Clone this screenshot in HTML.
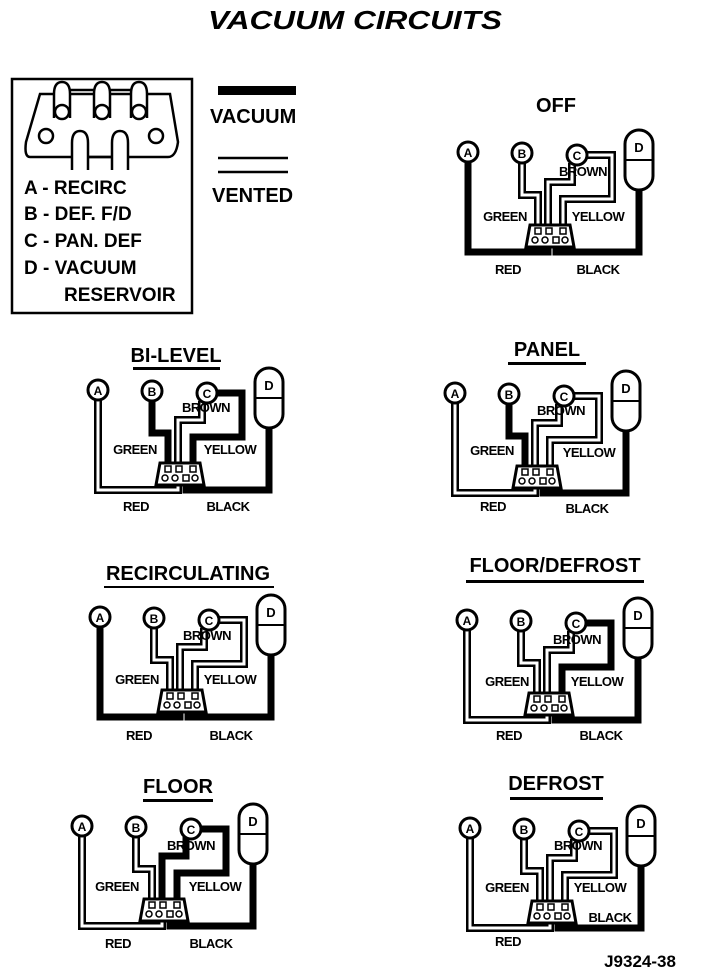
<!DOCTYPE html>
<html><head><meta charset="utf-8"><style>
html,body{margin:0;padding:0;background:#fff;}
svg{display:block;}
text{font-family:"Liberation Sans",sans-serif;font-weight:bold;fill:#000;}
.vo{fill:none;stroke:#000;stroke-width:8;stroke-linejoin:miter;}
.vi{fill:none;stroke:#fff;stroke-width:3;stroke-linejoin:miter;}
.k{fill:none;stroke:#000;stroke-width:7;stroke-linejoin:miter;}
.c{fill:#fff;stroke:#000;stroke-width:3;}
.lab{font-size:13px;letter-spacing:-0.5px;}
.ttl{font-size:20px;}
.pin{fill:#fff;stroke:#000;stroke-width:1.5;}
</style></head><body>
<svg width="704" height="974" viewBox="0 0 704 974" xmlns="http://www.w3.org/2000/svg">
<defs></defs>
<text x="355" y="29" text-anchor="middle" font-size="26" font-style="italic" textLength="294" lengthAdjust="spacingAndGlyphs" style="font-weight:900">VACUUM CIRCUITS</text>

<!-- legend box -->
<rect x="12" y="79" width="180" height="234" fill="none" stroke="#000" stroke-width="2.5"/>
<g fill="#fff" stroke="#000" stroke-width="2.5">
<path d="M40,94 L170,94 L178,142 Q176,157 168,157 L30,157 Q24,157 26,142 Z"/>
<path d="M54,118 V94 Q54,82 62,82 Q70,82 70,94 V118"/>
<path d="M94,118 V94 Q94,82 102,82 Q110,82 110,94 V118"/>
<path d="M131,118 V94 Q131,82 139,82 Q147,82 147,94 V118"/>
<circle cx="62" cy="112" r="7"/><circle cx="102" cy="112" r="7"/><circle cx="139" cy="112" r="7"/>
<circle cx="46" cy="136" r="7"/><circle cx="156" cy="136" r="7"/>
<path d="M72,170 V143 Q72,131 80,131 Q88,131 88,143 V170"/>
<path d="M112,170 V143 Q112,131 120,131 Q128,131 128,143 V170"/>
<line x1="88" y1="157" x2="112" y2="157"/>
<line x1="70" y1="90" x2="94" y2="90" /><line x1="110" y1="90" x2="131" y2="90"/>
</g>
<g font-size="19">
<text x="24" y="194">A - RECIRC</text>
<text x="24" y="220">B - DEF. F/D</text>
<text x="24" y="247">C - PAN. DEF</text>
<text x="24" y="274">D - VACUUM</text>
<text x="64" y="301">RESERVOIR</text>
</g>
<rect x="218" y="86" width="78" height="9" fill="#000"/>
<text x="210" y="123" font-size="20">VACUUM</text>
<line x1="218" y1="158" x2="288" y2="158" stroke="#000" stroke-width="2.5"/>
<line x1="218" y1="172" x2="288" y2="172" stroke="#000" stroke-width="2.5"/>
<text x="212" y="202" font-size="20">VENTED</text>

<!-- titles -->
<text class="ttl" x="556" y="112" text-anchor="middle">OFF</text>
<text class="ttl" x="176" y="362" text-anchor="middle">BI-LEVEL</text><rect x="133" y="367" width="87" height="3"/>
<text class="ttl" x="547" y="356" text-anchor="middle">PANEL</text><rect x="508" y="362" width="78" height="3"/>
<text class="ttl" x="188" y="580" text-anchor="middle">RECIRCULATING</text><rect x="104" y="586" width="170" height="2"/>
<text class="ttl" x="555" y="572" text-anchor="middle">FLOOR/DEFROST</text><rect x="466" y="580" width="178" height="3"/>
<text class="ttl" x="178" y="793" text-anchor="middle">FLOOR</text><rect x="143" y="799" width="70" height="3"/>
<text class="ttl" x="556" y="790" text-anchor="middle">DEFROST</text><rect x="510" y="797" width="93" height="3"/>

<!-- OFF -->
<g transform="translate(468,152)">
<path class="vo" d="M54,10 V43 H70 V78"/><path class="vi" d="M54,10 V43 H70 V78"/>
<path class="vo" d="M104,11 V30 H80 V78"/><path class="vi" d="M104,11 V30 H80 V78"/>
<path class="vo" d="M117,3 H144 V47 H95 V78"/><path class="vi" d="M117,3 H144 V47 H95 V78"/>
<path class="k" d="M0,9 V100 H80 V92"/>
<path class="k" d="M171,38 V100 H88 V92"/>
<circle class="c" cx="0" cy="0" r="10"/><circle class="c" cx="54" cy="1" r="10"/><circle class="c" cx="109" cy="3" r="10"/>
<rect class="c" x="157" y="-22" width="28" height="60" rx="14"/><line x1="157" y1="8" x2="185" y2="8" stroke="#000" stroke-width="2"/>
<polygon class="c" points="62,73 102,73 106,95 58,95"/>
<rect class="pin" x="67" y="76" width="6" height="6"/><rect class="pin" x="78" y="76" width="6" height="6"/><rect class="pin" x="92" y="76" width="6" height="6"/>
<circle class="pin" cx="67" cy="88" r="3"/><circle class="pin" cx="77" cy="88" r="3"/><rect class="pin" x="85" y="85" width="6" height="6"/><circle class="pin" cx="97" cy="88" r="3"/>
<text x="0" y="5" font-size="12" text-anchor="middle">A</text><text x="54" y="6" font-size="12" text-anchor="middle">B</text><text x="109" y="8" font-size="12" text-anchor="middle">C</text><text x="171" y="0" font-size="13" text-anchor="middle">D</text>
<text class="lab" x="115" y="24" text-anchor="middle">BROWN</text>
<text class="lab" x="37" y="69" text-anchor="middle">GREEN</text>
<text class="lab" x="130" y="69" text-anchor="middle">YELLOW</text>
<text class="lab" x="40" y="122" text-anchor="middle">RED</text>
<text class="lab" x="130" y="122" text-anchor="middle">BLACK</text>
</g>

<!-- BI-LEVEL -->
<g transform="translate(98,390)">
<path class="vo" d="M104,11 V30 H80 V78"/><path class="vi" d="M104,11 V30 H80 V78"/>
<path class="vo" d="M0,9 V100 H80 V92"/><path class="vi" d="M0,9 V100 H80 V92"/>
<path class="k" d="M54,10 V43 H70 V78"/>
<path class="k" d="M117,3 H144 V47 H95 V78"/>
<path class="k" d="M171,38 V100 H88 V92"/>
<circle class="c" cx="0" cy="0" r="10"/><circle class="c" cx="54" cy="1" r="10"/><circle class="c" cx="109" cy="3" r="10"/>
<rect class="c" x="157" y="-22" width="28" height="60" rx="14"/><line x1="157" y1="8" x2="185" y2="8" stroke="#000" stroke-width="2"/>
<polygon class="c" points="62,73 102,73 106,95 58,95"/>
<rect class="pin" x="67" y="76" width="6" height="6"/><rect class="pin" x="78" y="76" width="6" height="6"/><rect class="pin" x="92" y="76" width="6" height="6"/>
<circle class="pin" cx="67" cy="88" r="3"/><circle class="pin" cx="77" cy="88" r="3"/><rect class="pin" x="85" y="85" width="6" height="6"/><circle class="pin" cx="97" cy="88" r="3"/>
<text x="0" y="5" font-size="12" text-anchor="middle">A</text><text x="54" y="6" font-size="12" text-anchor="middle">B</text><text x="109" y="8" font-size="12" text-anchor="middle">C</text><text x="171" y="0" font-size="13" text-anchor="middle">D</text>
<text class="lab" x="108" y="22" text-anchor="middle">BROWN</text>
<text class="lab" x="37" y="64" text-anchor="middle">GREEN</text>
<text class="lab" x="132" y="64" text-anchor="middle">YELLOW</text>
<text class="lab" x="38" y="121" text-anchor="middle">RED</text>
<text class="lab" x="130" y="121" text-anchor="middle">BLACK</text>
</g>

<!-- PANEL -->
<g transform="translate(455,393)">
<path class="vo" d="M104,11 V30 H80 V78"/><path class="vi" d="M104,11 V30 H80 V78"/>
<path class="vo" d="M117,3 H144 V47 H95 V78"/><path class="vi" d="M117,3 H144 V47 H95 V78"/>
<path class="vo" d="M0,9 V100 H80 V92"/><path class="vi" d="M0,9 V100 H80 V92"/>
<path class="k" d="M54,10 V43 H70 V78"/>
<path class="k" d="M171,38 V100 H88 V92"/>
<circle class="c" cx="0" cy="0" r="10"/><circle class="c" cx="54" cy="1" r="10"/><circle class="c" cx="109" cy="3" r="10"/>
<rect class="c" x="157" y="-22" width="28" height="60" rx="14"/><line x1="157" y1="8" x2="185" y2="8" stroke="#000" stroke-width="2"/>
<polygon class="c" points="62,73 102,73 106,95 58,95"/>
<rect class="pin" x="67" y="76" width="6" height="6"/><rect class="pin" x="78" y="76" width="6" height="6"/><rect class="pin" x="92" y="76" width="6" height="6"/>
<circle class="pin" cx="67" cy="88" r="3"/><circle class="pin" cx="77" cy="88" r="3"/><rect class="pin" x="85" y="85" width="6" height="6"/><circle class="pin" cx="97" cy="88" r="3"/>
<text x="0" y="5" font-size="12" text-anchor="middle">A</text><text x="54" y="6" font-size="12" text-anchor="middle">B</text><text x="109" y="8" font-size="12" text-anchor="middle">C</text><text x="171" y="0" font-size="13" text-anchor="middle">D</text>
<text class="lab" x="106" y="22" text-anchor="middle">BROWN</text>
<text class="lab" x="37" y="62" text-anchor="middle">GREEN</text>
<text class="lab" x="134" y="64" text-anchor="middle">YELLOW</text>
<text class="lab" x="38" y="118" text-anchor="middle">RED</text>
<text class="lab" x="132" y="120" text-anchor="middle">BLACK</text>
</g>

<!-- RECIRC -->
<g transform="translate(100,617)">
<path class="vo" d="M54,10 V43 H70 V78"/><path class="vi" d="M54,10 V43 H70 V78"/>
<path class="vo" d="M104,11 V30 H80 V78"/><path class="vi" d="M104,11 V30 H80 V78"/>
<path class="vo" d="M117,3 H144 V47 H95 V78"/><path class="vi" d="M117,3 H144 V47 H95 V78"/>
<path class="k" d="M0,9 V100 H80 V92"/>
<path class="k" d="M171,38 V100 H88 V92"/>
<circle class="c" cx="0" cy="0" r="10"/><circle class="c" cx="54" cy="1" r="10"/><circle class="c" cx="109" cy="3" r="10"/>
<rect class="c" x="157" y="-22" width="28" height="60" rx="14"/><line x1="157" y1="8" x2="185" y2="8" stroke="#000" stroke-width="2"/>
<polygon class="c" points="62,73 102,73 106,95 58,95"/>
<rect class="pin" x="67" y="76" width="6" height="6"/><rect class="pin" x="78" y="76" width="6" height="6"/><rect class="pin" x="92" y="76" width="6" height="6"/>
<circle class="pin" cx="67" cy="88" r="3"/><circle class="pin" cx="77" cy="88" r="3"/><rect class="pin" x="85" y="85" width="6" height="6"/><circle class="pin" cx="97" cy="88" r="3"/>
<text x="0" y="5" font-size="12" text-anchor="middle">A</text><text x="54" y="6" font-size="12" text-anchor="middle">B</text><text x="109" y="8" font-size="12" text-anchor="middle">C</text><text x="171" y="0" font-size="13" text-anchor="middle">D</text>
<text class="lab" x="107" y="23" text-anchor="middle">BROWN</text>
<text class="lab" x="37" y="67" text-anchor="middle">GREEN</text>
<text class="lab" x="130" y="67" text-anchor="middle">YELLOW</text>
<text class="lab" x="39" y="123" text-anchor="middle">RED</text>
<text class="lab" x="131" y="123" text-anchor="middle">BLACK</text>
</g>

<!-- FLOOR/DEFROST -->
<g transform="translate(467,620)">
<path class="vo" d="M54,10 V43 H70 V78"/><path class="vi" d="M54,10 V43 H70 V78"/>
<path class="vo" d="M104,11 V30 H80 V78"/><path class="vi" d="M104,11 V30 H80 V78"/>
<path class="vo" d="M0,9 V100 H80 V92"/><path class="vi" d="M0,9 V100 H80 V92"/>
<path class="k" d="M117,3 H144 V47 H95 V78"/>
<path class="k" d="M171,38 V100 H88 V92"/>
<circle class="c" cx="0" cy="0" r="10"/><circle class="c" cx="54" cy="1" r="10"/><circle class="c" cx="109" cy="3" r="10"/>
<rect class="c" x="157" y="-22" width="28" height="60" rx="14"/><line x1="157" y1="8" x2="185" y2="8" stroke="#000" stroke-width="2"/>
<polygon class="c" points="62,73 102,73 106,95 58,95"/>
<rect class="pin" x="67" y="76" width="6" height="6"/><rect class="pin" x="78" y="76" width="6" height="6"/><rect class="pin" x="92" y="76" width="6" height="6"/>
<circle class="pin" cx="67" cy="88" r="3"/><circle class="pin" cx="77" cy="88" r="3"/><rect class="pin" x="85" y="85" width="6" height="6"/><circle class="pin" cx="97" cy="88" r="3"/>
<text x="0" y="5" font-size="12" text-anchor="middle">A</text><text x="54" y="6" font-size="12" text-anchor="middle">B</text><text x="109" y="8" font-size="12" text-anchor="middle">C</text><text x="171" y="0" font-size="13" text-anchor="middle">D</text>
<text class="lab" x="110" y="24" text-anchor="middle">BROWN</text>
<text class="lab" x="40" y="66" text-anchor="middle">GREEN</text>
<text class="lab" x="130" y="66" text-anchor="middle">YELLOW</text>
<text class="lab" x="42" y="120" text-anchor="middle">RED</text>
<text class="lab" x="134" y="120" text-anchor="middle">BLACK</text>
</g>

<!-- FLOOR -->
<g transform="translate(82,826)">
<path class="vo" d="M54,10 V43 H70 V78"/><path class="vi" d="M54,10 V43 H70 V78"/>
<path class="vo" d="M0,9 V100 H80 V92"/><path class="vi" d="M0,9 V100 H80 V92"/>
<path class="k" d="M104,11 V30 H80 V78"/>
<path class="k" d="M117,3 H144 V47 H95 V78"/>
<path class="k" d="M171,38 V100 H88 V92"/>
<circle class="c" cx="0" cy="0" r="10"/><circle class="c" cx="54" cy="1" r="10"/><circle class="c" cx="109" cy="3" r="10"/>
<rect class="c" x="157" y="-22" width="28" height="60" rx="14"/><line x1="157" y1="8" x2="185" y2="8" stroke="#000" stroke-width="2"/>
<polygon class="c" points="62,73 102,73 106,95 58,95"/>
<rect class="pin" x="67" y="76" width="6" height="6"/><rect class="pin" x="78" y="76" width="6" height="6"/><rect class="pin" x="92" y="76" width="6" height="6"/>
<circle class="pin" cx="67" cy="88" r="3"/><circle class="pin" cx="77" cy="88" r="3"/><rect class="pin" x="85" y="85" width="6" height="6"/><circle class="pin" cx="97" cy="88" r="3"/>
<text x="0" y="5" font-size="12" text-anchor="middle">A</text><text x="54" y="6" font-size="12" text-anchor="middle">B</text><text x="109" y="8" font-size="12" text-anchor="middle">C</text><text x="171" y="0" font-size="13" text-anchor="middle">D</text>
<text class="lab" x="109" y="24" text-anchor="middle">BROWN</text>
<text class="lab" x="35" y="65" text-anchor="middle">GREEN</text>
<text class="lab" x="133" y="65" text-anchor="middle">YELLOW</text>
<text class="lab" x="36" y="122" text-anchor="middle">RED</text>
<text class="lab" x="129" y="122" text-anchor="middle">BLACK</text>
</g>

<!-- DEFROST -->
<g transform="translate(470,828)">
<path class="vo" d="M54,10 V43 H70 V78"/><path class="vi" d="M54,10 V43 H70 V78"/>
<path class="vo" d="M104,11 V30 H80 V78"/><path class="vi" d="M104,11 V30 H80 V78"/>
<path class="vo" d="M117,3 H144 V47 H95 V78"/><path class="vi" d="M117,3 H144 V47 H95 V78"/>
<path class="vo" d="M0,9 V100 H80 V92"/><path class="vi" d="M0,9 V100 H80 V92"/>
<path class="k" d="M171,38 V100 H88 V92"/>
<circle class="c" cx="0" cy="0" r="10"/><circle class="c" cx="54" cy="1" r="10"/><circle class="c" cx="109" cy="3" r="10"/>
<rect class="c" x="157" y="-22" width="28" height="60" rx="14"/><line x1="157" y1="8" x2="185" y2="8" stroke="#000" stroke-width="2"/>
<polygon class="c" points="62,73 102,73 106,95 58,95"/>
<rect class="pin" x="67" y="76" width="6" height="6"/><rect class="pin" x="78" y="76" width="6" height="6"/><rect class="pin" x="92" y="76" width="6" height="6"/>
<circle class="pin" cx="67" cy="88" r="3"/><circle class="pin" cx="77" cy="88" r="3"/><rect class="pin" x="85" y="85" width="6" height="6"/><circle class="pin" cx="97" cy="88" r="3"/>
<text x="0" y="5" font-size="12" text-anchor="middle">A</text><text x="54" y="6" font-size="12" text-anchor="middle">B</text><text x="109" y="8" font-size="12" text-anchor="middle">C</text><text x="171" y="0" font-size="13" text-anchor="middle">D</text>
<text class="lab" x="108" y="22" text-anchor="middle">BROWN</text>
<text class="lab" x="37" y="64" text-anchor="middle">GREEN</text>
<text class="lab" x="130" y="64" text-anchor="middle">YELLOW</text>
<text class="lab" x="38" y="118" text-anchor="middle">RED</text>
<text class="lab" x="140" y="94" text-anchor="middle">BLACK</text>
</g>

<text x="640" y="967" font-size="17" text-anchor="middle">J9324-38</text>
</svg>
</body></html>
